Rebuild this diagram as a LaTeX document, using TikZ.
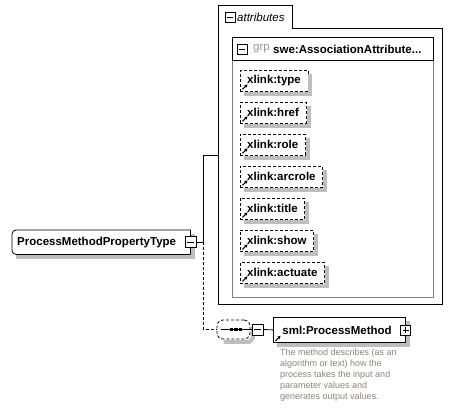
\documentclass[tikz,border=0pt]{standalone}
\usepackage{fontspec}
\setmainfont{Liberation Sans}
\usetikzlibrary{shapes.misc,arrows.meta,calc}
\definecolor{docc}{RGB}{140,134,118}
\definecolor{grpc}{RGB}{150,150,150}
\definecolor{boxgray}{RGB}{128,128,128}
\definecolor{shadowgrey}{RGB}{190,190,190}
\newcommand\lblfont{\fontsize{11.5}{13}\selectfont\bfseries}
\newcommand\lnk[1]{\draw[line width=1.1pt,-{Stealth[length=3.2pt,width=3.4pt]}] ([xshift=2.5pt,yshift=2pt]#1.south west) -- ++(5,-5);}
\newcommand\shadowL[1]{\draw[shadowline] ($(#1.north east)+(2.4,4)$) -- ($(#1.south east)+(2.4,2.4)$) -- ($(#1.south west)+(4,2.4)$);}
\tikzset{
  shadowline/.style={draw=shadowgrey, line width=4pt, line join=miter, line cap=butt},
  elem/.style={draw, dash pattern=on 3pt off 2pt, fill=white, anchor=north west,
    minimum height=21pt, inner xsep=7pt, inner ysep=0pt, font=\lblfont},
  icon/.style={draw, fill=white, minimum size=10pt, inner sep=0pt, line width=0.8pt},
  minusicon/.style={icon, path picture={\draw[line width=0.8pt] ([xshift=2pt]path picture bounding box.west) -- ([xshift=-2pt]path picture bounding box.east);}},
  plusicon/.style={icon, path picture={\draw[line width=0.8pt] ([xshift=2pt]path picture bounding box.west) -- ([xshift=-2pt]path picture bounding box.east);
     \draw[line width=0.8pt] ([yshift=-2pt]path picture bounding box.north) -- ([yshift=2pt]path picture bounding box.south);}},
  mainbox/.style={anchor=north west, minimum width=178pt, minimum height=24pt,
    text width=168pt, align=left, inner xsep=5pt, inner ysep=0pt, font=\lblfont},
  pmbox/.style={anchor=north west, minimum height=25pt, line width=0.8pt,
    text width=114pt, align=left, inner xsep=9pt, inner ysep=0pt, font=\lblfont},
  seqbox/.style={minimum width=33pt, minimum height=19pt, inner sep=0pt},
  conn/.style={line width=0.8pt},
  dconn/.style={line width=0.8pt, dash pattern=on 3pt off 2pt}
}
\begin{document}
\begin{tikzpicture}[x=1pt,y=-1pt]
\fill[white] (0,0) rectangle (452,408);
\useasboundingbox (0,0) rectangle (452,408);

% attributes container
\draw[line width=0.8pt] (218,5) -- (292,5) -- (292,28) -- (442,28) -- (442,304) -- (218,304) -- cycle;
\node[minusicon] (tabm) at (230,17) {};
\node[anchor=west, inner sep=0pt, font=\fontsize{11.5}{13}\selectfont\itshape] (tabt) at (237,17) {attributes};
\coordinate (attrL) at (218,155);

% group box
\draw[boxgray, line width=0.8pt] (232,60) -- (232,297) -- (433,297) -- (433,60);
\draw[line width=0.8pt] (232,37) rectangle (433,60);
\node[minusicon] (grpm) at (242,49) {};
\node[anchor=west, inner sep=0pt, text=grpc, font=\fontsize{11.5}{13}\selectfont] (grpt) at (253,49) {grp};
\node[anchor=west, inner sep=0pt, font=\lblfont] (grpn) at (273,49) {swe:AssociationAttribute...};

% attribute elements with shadows
\foreach \t [count=\i] in {type,href,role,arcrole,title,show,actuate}{
  \node[elem] (e\i) at (240,38+32*\i) {xlink:\t};
  \shadowL{e\i}
  \lnk{e\i}
}

% main node
\node[mainbox, fill=white] (main) at (12,230) {ProcessMethodPropertyType};
\shadowL{main}
\draw[line width=0.8pt] (main.south east) -- (main.north east)
  [rounded corners=4pt] -- (main.north west) -- (main.south west) [sharp corners] -- (main.south east);
\node[minusicon, minimum size=11pt] (mainm) at (main.east) {};

% connectors
\draw[conn] (mainm.east) -- ++(7,0) |- (attrL);

% sequence compositor
\node[seqbox, draw, fill=white, dash pattern=on 3pt off 2pt, line width=0.8pt,
  rounded corners=6pt] (seq) at (233.5,329.5) {};
\draw[shadowline, line join=round] ($(seq.north east)+(2.4,7)$) -- ($(seq.south east)+(2.4,-1)$) -- ($(seq.south east)+(-1,2.4)$) -- ($(seq.south west)+(7,2.4)$);
\draw[line width=0.9pt] (221,329.5) -- (seq.east);
\foreach \x in {229.5,234,238.5} \fill (\x,327.7) rectangle ++(3.6,3.6);
\node[minusicon, minimum size=11pt] (seqm) at (257.5,329.5) {};
\draw[conn] (seq.east) -- (seqm.west);
\draw[dconn] ([xshift=7pt]mainm.east) |- (seq.west);

% ProcessMethod element
\node[pmbox, draw, fill=white] (pm) at (273,317) {sml:ProcessMethod};
\shadowL{pm}
\lnk{pm}
\node[plusicon] (pmp) at (pm.east) {};
\draw[conn] (seqm.east) -- (pm.west);

% documentation
\node[anchor=north west, inner sep=0pt, align=left, text=docc,
  font=\fontsize{9}{11}\selectfont] (doc) at (280,349) {The method describes (as an\\algorithm or text) how the\\process takes the input and\\parameter values and\\generates output values.};
\end{tikzpicture}
\end{document}
